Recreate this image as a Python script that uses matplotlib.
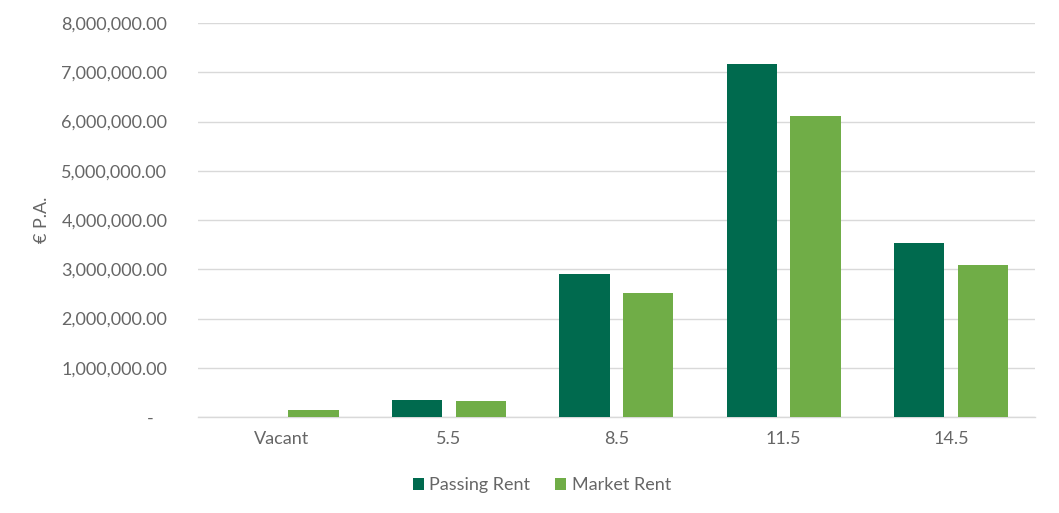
import numpy as np
import matplotlib.pyplot as plt
from matplotlib.ticker import FuncFormatter

categories = ['Vacant', '5.5', '8.5', '11.5', '14.5']
passing_rent = [0, 350000, 2900000, 7170000, 3530000]
market_rent = [150000, 330000, 2520000, 6110000, 3090000]

plt.rcParams['font.family'] = ['Lato', 'DejaVu Sans']

fig = plt.figure(figsize=(10.59, 5.13), dpi=100)
ax = fig.add_axes([0.187, 0.187, 0.79, 0.768])

x = np.arange(len(categories))
w = 0.3
ax.bar(x - 0.19, passing_rent, w, color='#006A4E', label='Passing Rent', zorder=3)
ax.bar(x + 0.19, market_rent, w, color='#70AD47', label='Market Rent', zorder=3)

ax.set_xlim(-0.5, len(categories) - 0.5)
ax.set_ylim(0, 8000000)
ax.set_yticks(np.arange(0, 8000001, 1000000))
ax.yaxis.set_major_formatter(FuncFormatter(lambda v, p: '-   ' if v == 0 else '{:,.2f}'.format(v)))
ax.set_xticks(x)
ax.set_xticklabels(categories)

ax.grid(axis='y', color='#d9d9d9', linewidth=1, zorder=0)
for s in ['top', 'right', 'left']:
    ax.spines[s].set_visible(False)
ax.spines['bottom'].set_color('#d9d9d9')
ax.spines['bottom'].set_linewidth(1)
ax.tick_params(axis='both', length=0, colors='#666666', labelsize=13)
ax.tick_params(axis='y', pad=22)
ax.tick_params(axis='x', pad=10)

ax.set_ylabel('€ P.A.', color='#666666', fontsize=13, labelpad=8)

ax.legend(loc='upper center', bbox_to_anchor=(0.411, -0.112), ncol=2, frameon=False,
          fontsize=13, labelcolor='#666666', handlelength=0.6, handleheight=0.6,
          handletextpad=0.3, columnspacing=1.4)

fig.savefig('out.png', dpi=100)
